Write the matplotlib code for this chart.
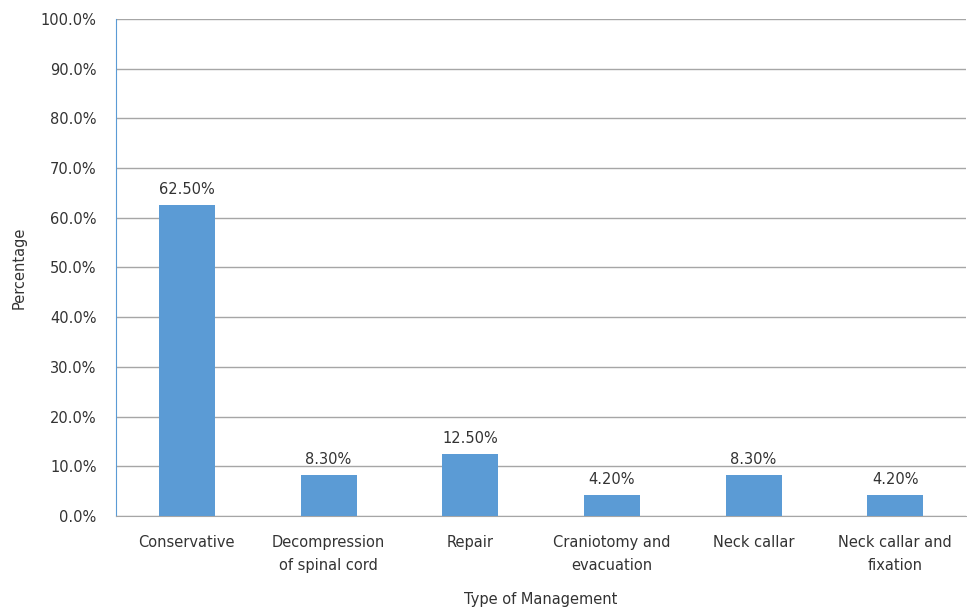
import matplotlib.pyplot as plt
import numpy as np
from matplotlib.ticker import FuncFormatter

# 数据
categories = ['Conservative', 'Decompression\nof spinal cord', 'Repair',
              'Craniotomy and\nevacuation', 'Neck callar', 'Neck callar and\nfixation']
values = [62.5, 8.3, 12.5, 4.2, 8.3, 4.2]
labels = ['62.50%', '8.30%', '12.50%', '4.20%', '8.30%', '4.20%']

plt.rcParams['font.family'] = ['DejaVu Sans']
bar_color = '#5B9BD5'
text_color = '#333333'
fs = 10.5

fig = plt.figure(figsize=(9.67, 6.10), dpi=100)
ax = fig.add_axes([0.12, 0.1541, 0.879, 0.8148])

x = np.arange(len(categories))
bars = ax.bar(x, values, width=0.395, color=bar_color, zorder=3)

for b, lab in zip(bars, labels):
    ax.text(b.get_x() + b.get_width() / 2, b.get_height() + 1.6, lab,
            ha='center', va='bottom', fontsize=fs, color=text_color)

ax.set_xlim(-0.5, len(categories) - 0.5)
ax.set_ylim(0, 100)
ax.set_yticks(np.arange(0, 101, 10))
ax.yaxis.set_major_formatter(FuncFormatter(lambda v, p: f'{v:.1f}%'))
ax.set_xticks(x)
ax.set_xticklabels(categories, fontsize=fs, color=text_color, linespacing=1.6)
ax.tick_params(axis='y', labelsize=fs, labelcolor=text_color, length=0, pad=14)
ax.tick_params(axis='x', length=0, pad=14)
ax.grid(axis='y', color='#A6A6A6', linewidth=1, zorder=0)

for s in ['top', 'right']:
    ax.spines[s].set_visible(False)
ax.spines['left'].set_color(bar_color)
ax.spines['bottom'].set_color('#A6A6A6')

ax.set_xlabel('Type of Management', fontsize=fs, color=text_color, labelpad=14)
ax.set_ylabel('Percentage', fontsize=fs, color=text_color, labelpad=10)

plt.savefig('out.png', dpi=100)
